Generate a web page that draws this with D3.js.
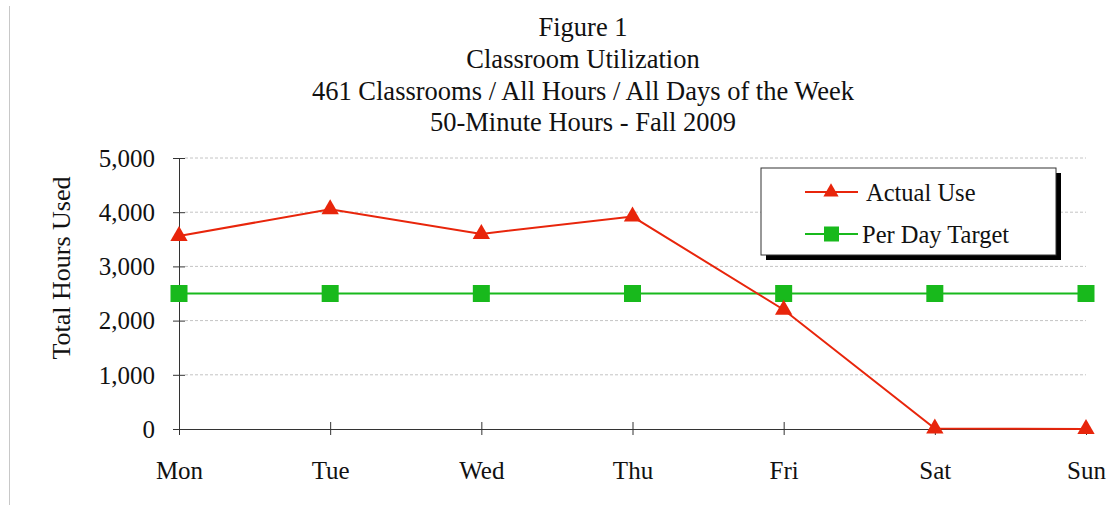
<!DOCTYPE html>
<html>
<head>
<meta charset="utf-8">
<script src="https://cdnjs.cloudflare.com/ajax/libs/d3/7.8.5/d3.min.js"></script>
<style>
  body { margin: 0; background: #fff; }
  svg text { font-family: "Liberation Serif", "Times New Roman", serif; fill: #111; }
</style>
</head>
<body>
<svg id="chart" width="1107" height="505"></svg>
<script>
// data
var days = ["Mon", "Tue", "Wed", "Thu", "Fri", "Sat", "Sun"];
var actualUse = [3560, 4055, 3600, 3920, 2200, 10, 0];
var perDayTarget = [2500, 2500, 2500, 2500, 2500, 2500, 2500];
var yTicks = [0, 1000, 2000, 3000, 4000, 5000];
var titleLines = ["Figure 1", "Classroom Utilization",
    "461 Classrooms / All Hours / All Days of the Week", "50-Minute Hours - Fall 2009"];

var svg = d3.select("#chart");
var margin = {top: 158, right: 21, bottom: 76, left: 179};
var width = 1107 - margin.left - margin.right;
var height = 505 - margin.top - margin.bottom;

// thin gray border on the left side of the page
svg.append("line")
    .attr("x1", 9.5).attr("x2", 9.5)
    .attr("y1", 6).attr("y2", 505)
    .attr("stroke", "#c8c8c8").attr("stroke-width", 1);

// titles
var titleY = [36, 68, 100, 131];
svg.selectAll(".title")
    .data(titleLines)
    .enter().append("text")
    .attr("class", "title")
    .attr("x", 583)
    .attr("y", function(d, i) { return titleY[i]; })
    .attr("text-anchor", "middle")
    .style("font-size", "26.5px")
    .text(function(d) { return d; });

var x = d3.scalePoint().domain(days).range([0, width]);
var y = d3.scaleLinear().domain([0, 5000]).range([height, 0]);

var g = svg.append("g")
    .attr("transform", "translate(" + margin.left + "," + margin.top + ")");

// dashed grid
g.selectAll(".grid")
    .data(yTicks.filter(function(d) { return d > 0; }))
    .enter().append("line")
    .attr("x1", 6).attr("x2", width)
    .attr("y1", function(d) { return y(d); })
    .attr("y2", function(d) { return y(d); })
    .attr("stroke", "#c4c4c4")
    .attr("stroke-dasharray", "3,2")
    .attr("stroke-width", 1);

// y axis
var yAxis = d3.axisLeft(y).tickValues(yTicks)
    .tickFormat(d3.format(",")).tickSize(6).tickPadding(18);
var ya = g.append("g").call(yAxis);
ya.select(".domain").attr("stroke", "#333").attr("d", "M0.5," + height + "V0");
ya.selectAll(".tick line").attr("x1", -6).attr("x2", 6).attr("stroke", "#333");
ya.selectAll(".tick text").style("font-size", "25px")
    .style("font-family", "Liberation Serif").attr("fill", "#111").attr("dy", "0.33em");

// x axis
var xAxis = d3.axisBottom(x).tickSize(6).tickPadding(26);
var xa = g.append("g").attr("transform", "translate(0," + height + ")").call(xAxis);
xa.select(".domain").attr("stroke", "#333").attr("d", "M0,0.5H" + width);
xa.selectAll(".tick line").attr("y1", -7).attr("y2", 6).attr("stroke", "#333");
xa.selectAll(".tick text").style("font-size", "25px")
    .style("font-family", "Liberation Serif").attr("fill", "#111");

// y axis title
svg.append("text")
    .attr("transform", "translate(70,268) rotate(-90)")
    .attr("text-anchor", "middle")
    .style("font-size", "26px")
    .text("Total Hours Used");

var red = "#e8250b", green = "#18b91c";
var line = d3.line()
    .x(function(d, i) { return x(days[i]); })
    .y(function(d) { return y(d); });

g.append("path").datum(perDayTarget)
    .attr("d", line).attr("fill", "none")
    .attr("stroke", green).attr("stroke-width", 2);

g.selectAll(".sq")
    .data(perDayTarget)
    .enter().append("rect")
    .attr("x", function(d, i) { return x(days[i]) - 8.5; })
    .attr("y", function(d) { return y(d) - 8.5; })
    .attr("width", 17).attr("height", 17)
    .attr("fill", green);

g.append("path").datum(actualUse)
    .attr("d", line).attr("fill", "none")
    .attr("stroke", red).attr("stroke-width", 2);

var tri = d3.symbol().type(d3.symbolTriangle).size(130);
g.selectAll(".tri")
    .data(actualUse)
    .enter().append("path")
    .attr("d", tri)
    .attr("transform", function(d, i) { return "translate(" + x(days[i]) + "," + y(d) + ")"; })
    .attr("fill", red);

// legend with drop shadow
var lg = svg.append("g").attr("transform", "translate(761,168)");
lg.append("rect").attr("x", 5).attr("y", 5).attr("width", 295).attr("height", 87).attr("fill", "#000");
lg.append("rect").attr("x", 0).attr("y", 0).attr("width", 295).attr("height", 87)
    .attr("fill", "#fff").attr("stroke", "#333").attr("stroke-width", 1);

var legendItems = [
    {name: "Actual Use", color: red, shape: "tri", tx: 105},
    {name: "Per Day Target", color: green, shape: "sq", tx: 101}
];
var li = lg.selectAll(".li")
    .data(legendItems)
    .enter().append("g")
    .attr("transform", function(d, i) { return "translate(0," + (24 + i * 42) + ")"; });
li.append("line").attr("x1", 44).attr("x2", 97)
    .attr("stroke", function(d) { return d.color; }).attr("stroke-width", 2);
li.each(function(d) {
    var s = d3.select(this);
    if (d.shape === "tri") {
        s.append("path").attr("d", d3.symbol().type(d3.symbolTriangle).size(100))
            .attr("transform", "translate(70,0)").attr("fill", d.color);
    } else {
        s.append("rect").attr("x", 63).attr("y", -7.5).attr("width", 15).attr("height", 15)
            .attr("fill", d.color);
    }
});
li.append("text")
    .attr("x", function(d) { return d.tx; })
    .attr("dy", "0.35em")
    .style("font-size", "24.5px")
    .text(function(d) { return d.name; });
</script>
</body>
</html>
